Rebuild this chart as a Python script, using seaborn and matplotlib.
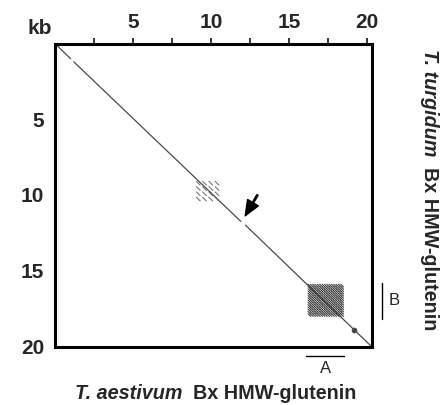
#!/usr/bin/env python3

import pandas as pd
import seaborn as sns
from matplotlib import pyplot as plt


# main diagonal (self alignment), split where the dot plot shows small gaps
diag_x0 = [0.0, 1.2, 12.2]
diag_x1 = [1.0, 11.9, 20.3]
diag_y0 = [0.0, 1.2, 12.0]
diag_y1 = [1.0, 11.75, 20.05]

# repeat block near 10 kb (short off-diagonal dashes)
rep1_x = [9.05, 9.45, 9.85, 10.25]
rep1_y = [9.1, 9.45, 9.8, 10.15]
rep1_len = 0.25

# dense repeat block near 17 kb
rep2_x = [16.2, 16.35, 16.5, 16.65, 16.8, 16.95, 17.1, 17.25,
          17.4, 17.55, 17.7, 17.85, 18.0, 18.15, 18.3]
rep2_y = [15.9, 16.05, 16.2, 16.35, 16.5, 16.65, 16.8,
          16.95, 17.1, 17.25, 17.4, 17.55, 17.7, 17.85]
rep2_len = 0.18

dot_x = [19.15]
dot_y = [18.9]

# arrow pointing at the gap in the diagonal
arrow_tip = (12.18, 11.38)
arrow_tail = (12.97, 10.0)

region_a = (16.1, 18.5)
region_b = (15.8, 18.2)

major_ticks = [5, 10, 15, 20]
minor_ticks = [2.5, 7.5, 12.5, 17.5]
x_max = 20.3
y_max = 20.05


def dash_rows(xs, ys, length):
    rows = []
    k = 0
    for x in xs:
        for y in ys:
            rows.append((k, x, y))
            rows.append((k, x + length, y + length))
            k += 1
    return rows


diag_rows = []
for i in range(len(diag_x0)):
    diag_rows.append((i, diag_x0[i], diag_y0[i]))
    diag_rows.append((i, diag_x1[i], diag_y1[i]))
diag_df = pd.DataFrame(diag_rows, columns=['seg', 'x', 'y'])

rep1_df = pd.DataFrame(dash_rows(rep1_x, rep1_y, rep1_len), columns=['seg', 'x', 'y'])
rep2_df = pd.DataFrame(dash_rows(rep2_x, rep2_y, rep2_len), columns=['seg', 'x', 'y'])

sns.set_style('white')
plt.rcParams['font.family'] = ['Liberation Sans', 'DejaVu Sans']

fig = plt.figure(figsize=(4.4, 4.05), dpi=100)
ax = fig.add_axes([0.125, 0.1432, 0.7205, 0.7491])

sns.lineplot(data=diag_df, x='x', y='y', units='seg', estimator=None, sort=False,
             color='#4a4a4a', lw=0.9, ax=ax, legend=False)
sns.lineplot(data=rep1_df, x='x', y='y', units='seg', estimator=None, sort=False,
             color='#666666', lw=0.7, ax=ax, legend=False)
sns.lineplot(data=rep2_df, x='x', y='y', units='seg', estimator=None, sort=False,
             color='#3a3a3a', lw=0.75, ax=ax, legend=False)
sns.scatterplot(x=dot_x, y=dot_y, s=14, color='#444444', edgecolor='#444444', ax=ax, legend=False)

ax.annotate('', xy=arrow_tip, xytext=arrow_tail,
            arrowprops=dict(facecolor='black', edgecolor='black', width=1.0,
                            headwidth=9, headlength=11, shrink=0))

ax.set_xlim(0, x_max)
ax.set_ylim(y_max, 0)
ax.xaxis.tick_top()
ax.set_xticks(major_ticks)
ax.set_xticks(minor_ticks, minor=True)
ax.set_yticks(major_ticks)
ax.set_yticks(minor_ticks, minor=True)
ax.set_xlabel('')
ax.set_ylabel('')
ax.tick_params(which='both', direction='out', length=4.3, width=1.1, color='black')
ax.tick_params(axis='x', which='major', labelsize=15, pad=4)
ax.tick_params(axis='y', which='major', labelsize=15, pad=3.5)
for lab in ax.get_xticklabels() + ax.get_yticklabels():
    lab.set_fontweight('bold')
for sp in ax.spines.values():
    sp.set_visible(True)
    sp.set_linewidth(2.2)
    sp.set_color('black')

# region brackets outside the frame
ax.plot(region_a, [20.62, 20.62], color='black', lw=1.0, clip_on=False)
ax.text(sum(region_a) / 2, 21.5, 'A', ha='center', va='center', fontsize=12)
ax.plot([20.96, 20.96], region_b, color='black', lw=1.0, clip_on=False)
ax.text(21.73, sum(region_b) / 2, 'B', ha='center', va='center', fontsize=12)

fig.text(39.5 / 440, 1 - 29 / 405, 'kb', ha='center', va='center',
         fontsize=15, fontweight='bold')

t1 = fig.text(75 / 440, 1 - 399 / 405, 'T. aestivum', ha='left', va='baseline',
              fontsize=14.2, fontweight='bold', style='italic')
ax.annotate('  Bx HMW-glutenin', xy=(1, 0), xycoords=t1, ha='left', va='bottom',
            fontsize=14.2, fontweight='bold', annotation_clip=False)

t2 = fig.text(429 / 440, 1 - 49 / 405, 'T. turgidum', ha='center', va='top',
              rotation=270, fontsize=14.2, fontweight='bold', style='italic')
ax.annotate('  Bx HMW-glutenin', xy=(0.5, 0), xycoords=t2, ha='center', va='top',
            rotation=270, fontsize=14.2, fontweight='bold', annotation_clip=False)

plt.savefig('out.png', dpi=100)
